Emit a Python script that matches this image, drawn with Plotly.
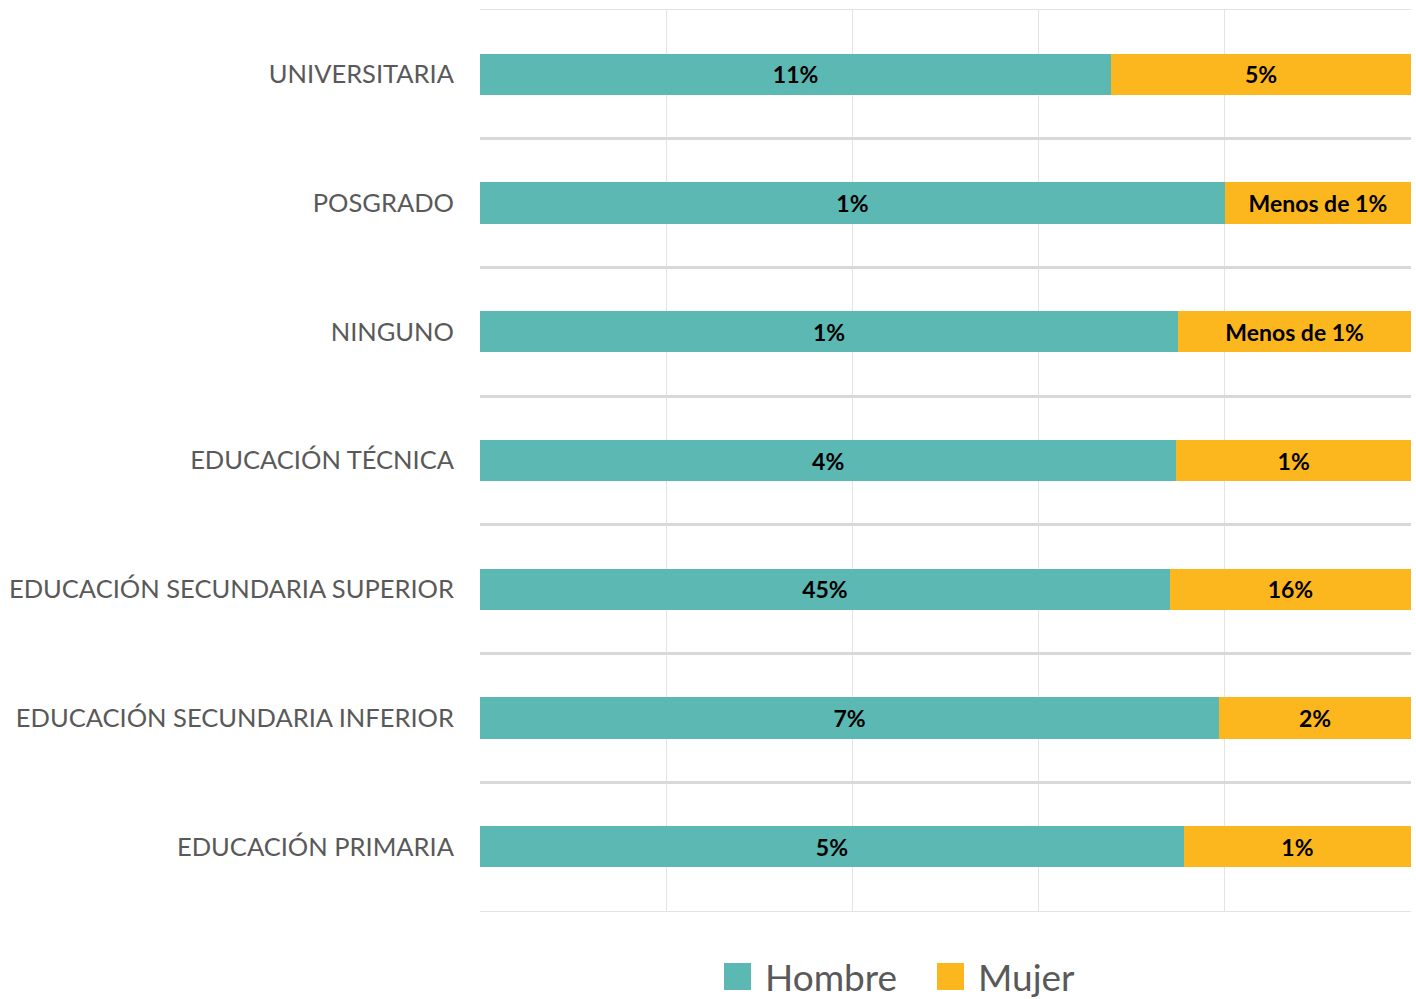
import plotly.graph_objects as go

categories = [
    "EDUCACIÓN PRIMARIA",
    "EDUCACIÓN SECUNDARIA INFERIOR",
    "EDUCACIÓN SECUNDARIA SUPERIOR",
    "EDUCACIÓN TÉCNICA",
    "NINGUNO",
    "POSGRADO",
    "UNIVERSITARIA",
]
hombre_share = [75.6, 79.4, 74.1, 74.8, 75.0, 80.0, 67.8]
mujer_share = [24.4, 20.6, 25.9, 25.2, 25.0, 20.0, 32.2]
hombre_labels = ["5%", "7%", "45%", "4%", "1%", "1%", "11%"]
mujer_labels = ["1%", "2%", "16%", "1%", "Menos de 1%", "Menos de 1%", "5%"]

TEAL = "#5BB8B3"
ORANGE = "#FDB71E"
FONT = "Lato"
GRAY = "#595959"

fig = go.Figure()
fig.add_trace(go.Bar(
    y=categories, x=hombre_share, orientation="h", name="Hombre",
    marker=dict(color=TEAL, line=dict(width=0)),
    text=hombre_labels, textposition="inside", insidetextanchor="middle",
    textangle=0, textfont=dict(family=FONT, size=23, color="black", weight="bold"),
    showlegend=False,
))
fig.add_trace(go.Bar(
    y=categories, x=mujer_share, orientation="h", name="Mujer",
    marker=dict(color=ORANGE, line=dict(width=0)),
    text=mujer_labels, textposition="inside", insidetextanchor="middle",
    textangle=0, textfont=dict(family=FONT, size=23, color="black", weight="bold"),
    showlegend=False,
))

W, H = 1416, 999
ml, mr, mt, mb = 480, 5, 10, 88
pw, ph = W - ml - mr, H - mt - mb

def px_x(sx):
    return (sx - ml) / pw

def px_y(sy):
    return (H - mb - sy) / ph

# custom legend (large squares)
legend_items = [("Hombre", TEAL, 724, 763), ("Mujer", ORANGE, 937, 976)]
shapes = []
annotations = []
for name, col, sx, tx in legend_items:
    shapes.append(dict(type="rect", xref="paper", yref="paper",
                       x0=px_x(sx), x1=px_x(sx + 27),
                       y0=px_y(990), y1=px_y(963),
                       fillcolor=col, line=dict(width=0)))
    annotations.append(dict(xref="paper", yref="paper", x=px_x(tx),
                            y=px_y(976), xanchor="left", yanchor="middle",
                            text=name, showarrow=False,
                            font=dict(family=FONT, size=37, color=GRAY)))

fig.update_layout(
    width=W, height=H,
    margin=dict(l=ml, r=mr, t=mt, b=mb),
    barmode="stack", bargap=0.68,
    plot_bgcolor="white", paper_bgcolor="white",
    showlegend=False,
    shapes=shapes, annotations=annotations,
    xaxis=dict(range=[0, 100], dtick=20, showticklabels=False,
               showgrid=True, gridcolor="#E3E3E3", gridwidth=1,
               zeroline=False, showline=True, linecolor="#E3E3E3", mirror=True,
               fixedrange=True),
    yaxis=dict(type="category", categoryorder="array", categoryarray=categories,
               tickson="boundaries", showgrid=True, gridcolor="#D9D9D9", gridwidth=2.5,
               ticks="", ticklabelstandoff=25,
               tickfont=dict(family=FONT, size=25.5, color=GRAY),
               zeroline=False, showline=False),
)

fig.write_html(
    "out.html",
    config={"displayModeBar": False},
    post_script="document.body.style.margin='0';document.body.style.overflow='hidden';",
)
